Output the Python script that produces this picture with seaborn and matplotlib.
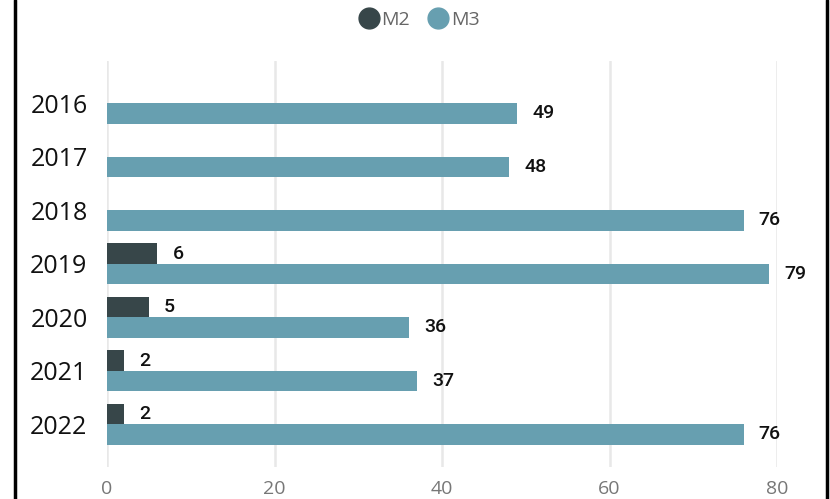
import matplotlib
matplotlib.use("Agg")
import matplotlib.pyplot as plt
from matplotlib.lines import Line2D
import matplotlib.transforms as mtransforms
import seaborn as sns
import pandas as pd

years = ["2016", "2017", "2018", "2019", "2020", "2021", "2022"]
series = ["M2", "M3"]
m2_values = [None, None, None, 6, 5, 2, 2]
m3_values = [49, 48, 76, 79, 36, 37, 76]
x_ticks = [0, 20, 40, 60, 80]
colors = {"M2": "#374649", "M3": "#679FB0"}

rows = []
for y, v in zip(years, m2_values):
    if v is not None:
        rows.append({"Year": y, "Series": "M2", "Value": v})
for y, v in zip(years, m3_values):
    rows.append({"Year": y, "Series": "M3", "Value": v})
df = pd.DataFrame(rows)

sns.set_theme(style="white")
plt.rcParams["font.family"] = ["Open Sans", "DejaVu Sans"]

fig = plt.figure(figsize=(8.3, 4.99), dpi=100)
ax = fig.add_axes([107 / 830, 1 - 467 / 499, 670 / 830, (467 - 61) / 499])

sns.barplot(data=df, y="Year", x="Value", hue="Series", order=years,
            hue_order=series, palette=colors, orient="h", width=0.76,
            errorbar=None, ax=ax, legend=False, saturation=1, linewidth=0)

ax.set_xlim(0, 80)
ax.set_ylim(6.8, -0.79)
ax.set_xticks(x_ticks)
ax.set_xticklabels([str(t) for t in x_ticks])
ax.set_xlabel("")
ax.set_ylabel("")
for s in ax.spines.values():
    s.set_visible(False)
ax.grid(axis="x", color="#e8e8e8", linewidth=1.8)
ax.grid(axis="y", visible=False)
ax.set_axisbelow(True)
ax.tick_params(axis="y", length=0, pad=14, labelsize=18, labelcolor="#111111")
ax.tick_params(axis="x", length=0, pad=9, labelsize=14, labelcolor="#777777")

shift = mtransforms.ScaledTranslation(0, -2 / 100, fig.dpi_scale_trans)
for cont in ax.containers:
    labels = []
    for bar in cont:
        w = bar.get_width()
        labels.append("" if w == 0 else f"{int(round(w))}")
    texts = ax.bar_label(cont, labels=labels, padding=11, fontsize=14,
                         fontweight="medium", color="#111111", family="Roboto",
                         clip_on=False)
    for t in texts:
        t.set_transform(t.get_transform() + shift)

handles = [Line2D([0], [0], marker="o", linestyle="", markersize=15,
                  markerfacecolor=colors[s], markeredgecolor=colors[s])
           for s in series]
leg = fig.legend(handles, series, loc="center", bbox_to_anchor=(418 / 830, 1 - 20 / 499),
                 ncol=2, frameon=False, handletextpad=0.0, columnspacing=0.8,
                 handlelength=1.3, fontsize=14)
for t in leg.get_texts():
    t.set_color("#666666")

fig.add_artist(Line2D([14.5 / 830, 14.5 / 830], [0, 1], transform=fig.transFigure,
                      color="black", linewidth=2.5))
fig.add_artist(Line2D([827 / 830, 827 / 830], [0, 1], transform=fig.transFigure,
                      color="black", linewidth=2.5))

fig.savefig("out.png", dpi=100)
